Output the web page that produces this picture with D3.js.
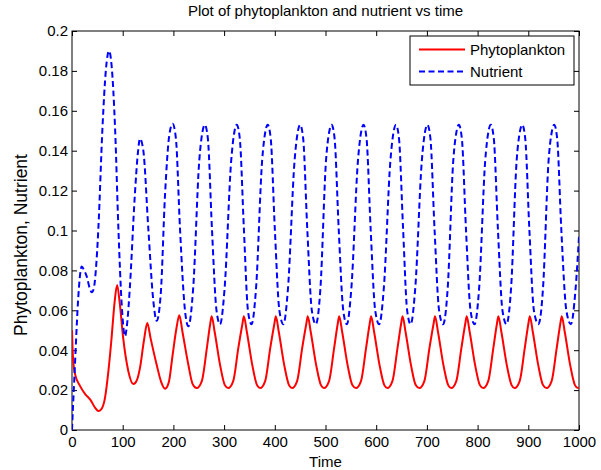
<!DOCTYPE html>
<html>
<head>
<meta charset="utf-8">
<script src="https://cdn.jsdelivr.net/npm/d3@7"></script>
<style>
  body { margin: 0; background: #fff; }
  text { font-family: "Liberation Sans", Arial, sans-serif; }
</style>
</head>
<body>
<svg id="chart"></svg>
<script>
// values: [time, value]
var phyto = [
  [0,0.050],[2,0.036],[6,0.028],[16,0.022],[26,0.018],[36,0.0152],[46,0.011],[52,0.0095],
  [58,0.0105],[65,0.016],[72,0.030],[78,0.046],[84,0.064],[89,0.0727],[94,0.064],[101,0.046],
  [111,0.0296],[121,0.023],[128,0.025],[134,0.031],[142,0.045],[148.5,0.0536],[155,0.046],
  [167,0.0327],[176,0.024],[183.5,0.0207],[191,0.024],[198.5,0.0377],[206,0.051],[211.7,0.0575],
  [218,0.049],[229.5,0.0327],[238,0.023],
  [246,0.021],[256,0.0245],[266,0.041],[272.5,0.053],[275.5,0.057],[281.5,0.049],[292.5,0.032],[301.5,0.0225],
  [308,0.021],[318,0.0245],[328,0.041],[336,0.053],[339,0.057],[345,0.049],[356,0.032],[365,0.0225],
  [371,0.021],[381,0.0245],[391,0.041],[399,0.053],[402,0.057],[408,0.049],[419,0.032],[428,0.0225],
  [434,0.021],[444,0.0245],[454,0.041],[462,0.053],[465,0.057],[471,0.049],[482,0.032],[491,0.0225],
  [497,0.021],[507,0.0245],[517,0.041],[524,0.053],[527,0.057],[533,0.049],[544,0.032],[553,0.0225],
  [560,0.021],[570,0.0245],[580,0.041],[587,0.053],[590,0.057],[596,0.049],[607,0.032],[616,0.0225],
  [622,0.021],[632,0.0245],[642,0.041],[649,0.053],[652,0.057],[658,0.049],[669,0.032],[678,0.0225],
  [685,0.021],[695,0.0245],[705,0.041],[713,0.053],[716,0.057],[722,0.049],[733,0.032],[742,0.0225],
  [748,0.021],[758,0.0245],[768,0.041],[775.5,0.053],[778.5,0.057],[784.5,0.049],[795.5,0.032],[804.5,0.0225],
  [811,0.021],[821,0.0245],[831,0.041],[838,0.053],[841,0.057],[847,0.049],[858,0.032],[867,0.0225],
  [873,0.021],[883,0.0245],[893,0.041],[900,0.053],[903,0.057],[909,0.049],[920,0.032],[929,0.0225],
  [936,0.021],[946,0.0245],[956,0.041],[963,0.053],[966,0.057],[972,0.049],[983,0.032],[992,0.0225],
  [998,0.021],[1000,0.0212]
];

var nutrient = [
  [0,0],[2,0.012],[5,0.028],[8,0.045],[12,0.065],[16,0.078],[19,0.082],[24,0.080],[29,0.077],
  [35,0.071],[39,0.069],[43,0.071],[47,0.080],[52,0.101],[60,0.151],[67,0.181],[73,0.190],
  [78,0.183],[85,0.151],[91.5,0.101],[98,0.063],[104.5,0.047],[109,0.054],[114,0.071],[124,0.118],
  [130,0.139],[134,0.146],[140.7,0.140],[150.5,0.101],[160.4,0.0647],[167,0.0547],[175,0.068],
  [183.5,0.118],[192,0.148],[198.5,0.1535],[205,0.146],[213,0.101],[223,0.0595],[229.5,0.052],
  [239,0.071],[251,0.135],[257,0.149],
  [262,0.153],[268,0.146],[276,0.101],[285,0.060],[292,0.053],[301,0.071],[314,0.135],[320,0.149],
  [325,0.153],[331,0.146],[339,0.101],[347,0.060],[354,0.053],[363,0.071],[375,0.135],[381,0.149],
  [386,0.153],[392,0.146],[400,0.101],[409,0.060],[417,0.053],[426,0.071],[439,0.135],[445,0.149],
  [450,0.153],[456,0.146],[464,0.101],[473,0.060],[481,0.053],[490,0.071],[501,0.135],[507,0.149],
  [512,0.153],[518,0.146],[526,0.101],[535,0.060],[542,0.053],[551,0.071],[564,0.135],[570,0.149],
  [575,0.153],[581,0.146],[589,0.101],[598,0.060],[606,0.053],[615,0.071],[628,0.135],[634,0.149],
  [639,0.153],[645,0.146],[653,0.101],[661,0.060],[668,0.053],[677,0.071],[690,0.135],[696,0.149],
  [701,0.153],[707,0.146],[715,0.101],[724,0.060],[732,0.053],[741,0.071],[752,0.135],[758,0.149],
  [763,0.153],[769,0.146],[777,0.101],[786,0.060],[794,0.053],[803,0.071],[815,0.135],[821,0.149],
  [826,0.153],[832,0.146],[840,0.101],[849,0.060],[857,0.053],[866,0.071],[877,0.135],[883,0.149],
  [888,0.153],[894,0.146],[902,0.101],[911,0.060],[920,0.053],[929,0.071],[940,0.135],[946,0.149],
  [951,0.153],[957,0.146],[965,0.101],[975,0.060],[984,0.053],[993,0.070],[1000,0.097]
];

var xTicks = [0,100,200,300,400,500,600,700,800,900,1000];
var yTicks = [0,0.02,0.04,0.06,0.08,0.1,0.12,0.14,0.16,0.18,0.2];
var yTickLabels = ['0','0.02','0.04','0.06','0.08','0.1','0.12','0.14','0.16','0.18','0.2'];
var seriesNames = ['Phytoplankton','Nutrient'];

var svgwidth = 601, svgheight = 470;
var margins = {top:31, bottom:40, left:72, right:22};
var width = svgwidth - margins.left - margins.right;
var height = svgheight - margins.top - margins.bottom;

var svg = d3.select('#chart').attr('width',svgwidth).attr('height',svgheight);

var xscale = d3.scaleLinear().domain([0,1000]).range([0,width]);
var yscale = d3.scaleLinear().domain([0,0.2]).range([height,0]);

var plot = svg.append('g')
              .attr('transform','translate('+margins.left+','+margins.top+')');

plot.append('clipPath').attr('id','clip')
    .append('rect').attr('width',width).attr('height',height);

// ticks point inwards like matlab, on all four sides
plot.append('g').attr('transform','translate(0,'+height+')')
  .call(d3.axisBottom(xscale).tickValues(xTicks).tickSizeInner(-5).tickSizeOuter(0).tickPadding(6)
        .tickFormat(d3.format('d')));
plot.append('g')
  .call(d3.axisTop(xscale).tickValues(xTicks).tickSizeInner(-5).tickSizeOuter(0).tickFormat(''));
plot.append('g')
  .call(d3.axisLeft(yscale).tickValues(yTicks).tickSizeInner(-5).tickSizeOuter(0).tickPadding(4)
        .tickFormat(function(d,i){ return yTickLabels[i]; }));
plot.append('g').attr('transform','translate('+width+',0)')
  .call(d3.axisRight(yscale).tickValues(yTicks).tickSizeInner(-5).tickSizeOuter(0).tickFormat(''));

plot.selectAll('.domain').remove();
plot.selectAll('.tick line').attr('stroke','#000').attr('stroke-width',1);
plot.selectAll('.tick text').style('font-size','15px').attr('fill','#000');

plot.append('rect').attr('width',width).attr('height',height)
    .attr('fill','none').attr('stroke','#000').attr('stroke-width',1);

var linegen = d3.line()
  .x(function(d){ return xscale(d[0]); })
  .y(function(d){ return yscale(d[1]); })
  .curve(d3.curveMonotoneX);

var lines = plot.append('g').attr('clip-path','url(#clip)');

lines.append('path').datum(phyto)
     .attr('d',linegen)
     .attr('fill','none')
     .attr('stroke','#ff0000')
     .attr('stroke-width',2);

lines.append('path').datum(nutrient)
     .attr('d',linegen)
     .attr('fill','none')
     .attr('stroke','#0000ff')
     .attr('stroke-width',2)
     .style('stroke-dasharray','6,3.5');

// title and axis labels
svg.append('text').attr('x',margins.left+width/2).attr('y',16)
   .attr('text-anchor','middle').style('font-size','15px')
   .text('Plot of phytoplankton and nutrient vs time');

svg.append('text').attr('x',margins.left+width/2).attr('y',467)
   .attr('text-anchor','middle').style('font-size','15px')
   .text('Time');

svg.append('text')
   .attr('transform','translate(27,245) rotate(-90)')
   .attr('text-anchor','middle').style('font-size','17.5px')
   .text('Phytoplankton, Nutrient');

// legend
var legend = svg.append('g').attr('transform','translate(410,36)');
legend.append('rect').attr('width',164).attr('height',49)
      .attr('fill','#fff').attr('stroke','#000').attr('stroke-width',1);

var legcolors = ['#ff0000','#0000ff'];
var legdash = [null,'6,3.5'];

legend.selectAll('.legline').data(seriesNames).enter().append('line')
      .attr('x1',9).attr('x2',55)
      .attr('y1',function(d,i){ return 13.5+i*22; })
      .attr('y2',function(d,i){ return 13.5+i*22; })
      .attr('stroke',function(d,i){ return legcolors[i]; })
      .attr('stroke-width',2)
      .style('stroke-dasharray',function(d,i){ return legdash[i]; });

legend.selectAll('.legtext').data(seriesNames).enter().append('text')
      .attr('x',60)
      .attr('y',function(d,i){ return 13.5+i*22; })
      .attr('dy','0.35em')
      .style('font-size','15px')
      .text(function(d){ return d; });
</script>
</body>
</html>
